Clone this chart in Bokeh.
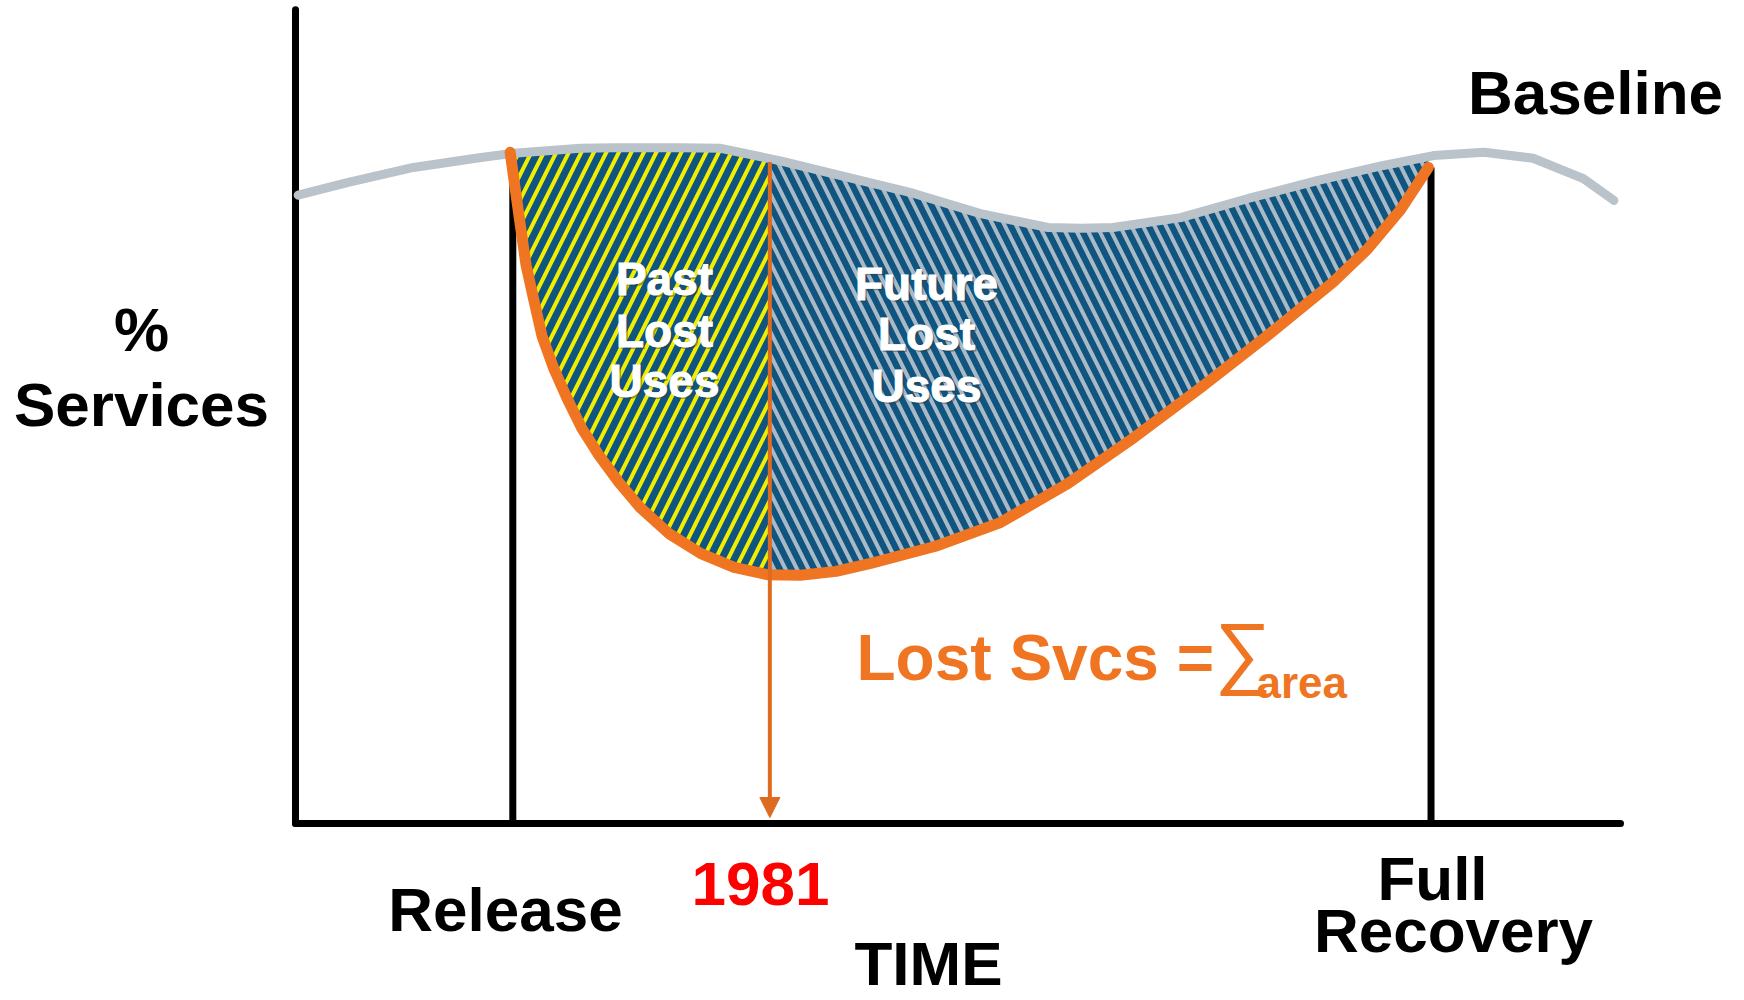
import numpy as np
from bokeh.plotting import figure
from bokeh.models import Range1d, Arrow, NormalHead
from bokeh.core.properties import value
from bokeh.embed import file_html
from bokeh.resources import INLINE

# ---- data (time in arbitrary units, services in % of baseline scale) ----
baseline_t = [0.2, 3.9, 8.9, 14.0, 16.2, 21.5, 24.0, 29.1, 32.1, 36.6, 41.7, 46.6, 51.7,
              56.8, 59.3, 61.7, 66.8, 71.9, 77.1, 82.1, 85.9, 89.7, 93.4, 97.2, 99.5]
baseline_pct = [95.2, 97.1, 99.4, 100.9, 101.5, 102.3, 102.4, 102.4, 102.3, 100.4, 97.9, 95.5, 92.4,
                90.3, 90.2, 90.3, 91.8, 94.7, 97.4, 99.7, 101.2, 101.7, 100.8, 97.7, 94.4]

injured_t = [16.2, 16.6, 17.0, 17.4, 18.0, 18.6, 19.5, 20.5, 21.6, 22.9, 24.4, 26.0, 28.2, 30.6,
             33.1, 35.6, 38.1, 40.8, 43.4, 48.3, 53.2, 58.3, 63.3, 68.3, 73.4, 78.3, 80.9, 83.4, 85.5]
injured_pct = [101.7, 95.9, 90.2, 84.6, 79.2, 73.9, 68.9, 64.4, 59.9, 55.8, 51.7, 47.9, 43.9, 40.9,
               38.8, 37.7, 37.6, 38.2, 39.4, 42.0, 45.6, 51.5, 58.5, 66.0, 74.0, 82.0, 87.0, 93.0, 99.4]

release_t = 16.4
assess_t = 35.8
recovery_t = 85.7
axis_t_max = 100.0
axis_pct_max = 123.3
arrow_tip_pct = 0.9

# ---- layout helpers (screen px -> data), used for label placement only ----
W, H = 1744, 1000
SX0, SY0, KX, KY = 295.0, 823.0, 13.25, 6.6
def lx(sx):
    return (sx - SX0) / KX
def ly(sy):
    return (SY0 - sy) / KY

x0 = lx(0); x1 = x0 + W / KX
y1 = ly(0); y0 = y1 - H / KY

p = figure(width=W, height=H, x_range=Range1d(x0, x1), y_range=Range1d(y0, y1),
           output_backend="svg", toolbar_location=None, min_border=0)
p.axis.visible = False
p.grid.visible = False
p.outline_line_color = None
p.background_fill_color = "white"
p.border_fill_color = "white"

BLUE = "#0F5580"
ORANGE = "#F07522"
DARK_OR = "#DD6B20"
GREY = "#BAC3CA"

def region(t_start, t_end):
    pts = sorted(set([t for t in injured_t + baseline_t if t_start < t < t_end] + [t_start, t_end]))
    xs = np.array(pts)
    lo = np.interp(xs, injured_t, injured_pct)
    hi = np.interp(xs, baseline_t, baseline_pct)
    return xs, lo, hi

# past lost uses
xs, lo, hi = region(injured_t[0], assess_t)
p.varea(x=xs, y1=lo, y2=hi, fill_color=BLUE, hatch_pattern="/", hatch_color="#F2EE00",
        hatch_weight=4, hatch_scale=25)
p.line(xs, hi, line_color="#F4A81D", line_width=1.5)
# future lost uses
xs2, lo2, hi2 = region(assess_t, injured_t[-1])
p.varea(x=xs2, y1=lo2, y2=hi2, fill_color=BLUE, hatch_pattern="\\", hatch_color="#A9B9C6",
        hatch_weight=4, hatch_scale=23)
p.line(xs2, hi2, line_color="#F4A81D", line_width=1.5)

# axes and vertical markers
p.segment(x0=[0, 0], y0=[0, 0], x1=[0, axis_t_max], y1=[axis_pct_max, 0],
          line_color="black", line_width=7, line_cap="round")
rec_top = float(np.interp(recovery_t, injured_t, injured_pct))
p.segment(x0=[release_t, recovery_t], y0=[0, 0], x1=[release_t, recovery_t],
          y1=[injured_pct[0] - 1, rec_top], line_color="black", line_width=7)

# baseline curve
p.line(baseline_t, baseline_pct, line_color=GREY, line_width=9, line_cap="round", line_join="round")

# divider + arrow at assessment year
top_split = float(np.interp(assess_t, baseline_t, baseline_pct))
p.add_layout(Arrow(end=NormalHead(size=20, fill_color=DARK_OR, line_color=DARK_OR, line_width=1),
                   x_start=assess_t, y_start=top_split - 0.5, x_end=assess_t, y_end=arrow_tip_pct,
                   line_color=DARK_OR, line_width=4))

# injured services curve
p.line(injured_t, injured_pct, line_color=ORANGE, line_width=11, line_cap="round", line_join="round")

FONT = value("Liberation Sans")
SHIFT = 0.365  # em correction for the renderer's baseline placement

def label(txt, sx, sy, size, color="black", align="center", style="bold", **kw):
    p.text(x=[lx(sx)], y=[ly(sy - SHIFT * size)], text=[txt], text_font=FONT,
           text_font_size=f"{size}px", text_font_style=style, text_color=color,
           text_align=align, text_baseline="alphabetic", **kw)

# region labels with subtle shadow
for words, cx, bls in ((["Past", "Lost", "Uses"], 664, [295, 347, 397]),
                       (["Future", "Lost", "Uses"], 926, [300, 350, 402])):
    for w_, b in zip(words, bls):
        label(w_, cx + 2, b + 2, 46, color="#333333", text_alpha=0.45)
        label(w_, cx, b, 46, color="white", text_outline_color="white")

label("%", 141, 352, 62)
label("Services", 141, 427, 62)
label("Baseline", 1595, 115, 62)
label("Release", 505, 932, 62)
label("1981", 760, 906, 62, color="#FF0000")
label("TIME", 928, 986, 62)
label("Full", 1432, 901, 62)
label("Recovery", 1453, 953, 62)
label("Lost Svcs =", 856, 681, 64, color=ORANGE, align="left")
label("\u2211", 1214, 680, 80, color=ORANGE, align="left", style="normal")
label("area", 1256, 698, 44, color=ORANGE, align="left")

open("out.html", "w").write(file_html(p, INLINE))
